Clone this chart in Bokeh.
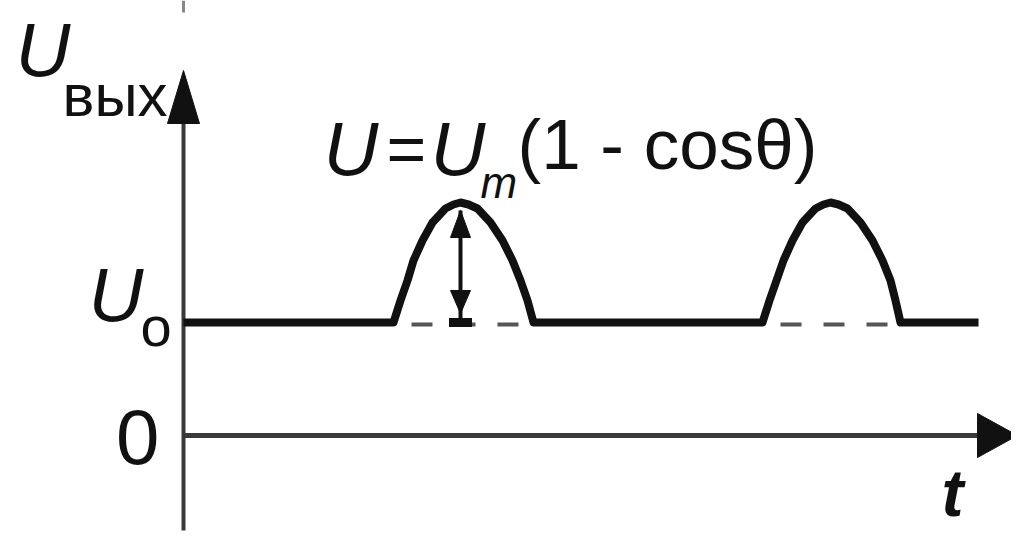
from bokeh.plotting import figure
from bokeh.models import Range1d
from bokeh.embed import file_html
from bokeh.resources import INLINE
from bokeh.core.properties import value

# ---- data (schematic units) ----
t_wave = [0,
          210, 217, 224, 230, 239, 249, 262, 270, 277, 285, 294, 307, 319, 329, 337, 344, 350,
          579, 586, 593, 600, 609, 619, 632, 640, 647, 655, 664, 677, 689, 699, 707, 712, 717,
          795]
u_wave = [113,
          113, 135, 155, 175, 195, 213, 227, 231, 233, 231, 227, 213, 195, 175, 155, 135, 113,
          113, 135, 155, 175, 195, 213, 227, 231, 233, 231, 227, 213, 195, 175, 155, 135, 113,
          113]
pulse_start = [210, 579]
pulse_end = [350, 717]
U0 = 113
peak_t = 277
peak_u = 233
t_axis_end = 834
u_axis_end = 365
u_axis_low = -95

FONT = "Liberation Sans"
AX = "#3a3a3a"
INK = "#111111"

p = figure(width=1011, height=533, output_backend="svg", toolbar_location=None,
           x_range=Range1d(-183, 828), y_range=Range1d(-98, 435),
           x_axis_location=None, y_axis_location=None, min_border=0)
p.grid.visible = False
p.outline_line_color = None
p.background_fill_color = "white"
p.border_fill_color = "white"

# axes
p.segment(x0=[0], y0=[u_axis_low], x1=[0], y1=[u_axis_end - 50], line_color=AX, line_width=4)
p.segment(x0=[0], y0=[u_axis_end + 58], x1=[0], y1=[u_axis_end + 70], line_color="#888888", line_width=3)
p.patch(x=[-16, 0, 16], y=[u_axis_end - 53, u_axis_end, u_axis_end - 53], fill_color=INK, line_color=INK)
p.segment(x0=[0], y0=[0], x1=[t_axis_end - 38], y1=[0], line_color=AX, line_width=5)
p.patch(x=[t_axis_end - 40, t_axis_end, t_axis_end - 40], y=[22, 0, -22], fill_color=INK, line_color=INK)

# dashed baseline under pulses
p.segment(x0=pulse_start, y0=[U0 - 2] * 2, x1=pulse_end, y1=[U0 - 2] * 2,
          line_color="#555555", line_width=4, line_dash="21 22", line_dash_offset=25)

# waveform
p.line(t_wave, u_wave, line_color=INK, line_width=8, line_join="round")

# amplitude double arrow
p.segment(x0=[peak_t], y0=[U0], x1=[peak_t], y1=[peak_u - 8], line_color=INK, line_width=4)
p.patch(x=[peak_t - 10, peak_t, peak_t + 10], y=[peak_u - 35, peak_u - 8, peak_u - 35], fill_color=INK, line_color=INK)
p.patch(x=[peak_t - 10, peak_t, peak_t + 10], y=[U0 + 32, U0 + 9, U0 + 32], fill_color=INK, line_color=INK)
p.rect(x=[peak_t], y=[U0], width=23, height=9, fill_color=INK, line_color=None)

def txt(px, py, s, size, style="normal", align="left"):
    # px, py: left edge and baseline in picture pixels
    shift = 0.37 * size
    p.text(x=[px - 183], y=[435 - (py - shift)], text=[s], text_font=value(FONT),
           text_font_size=f"{size}px", text_font_style=style, text_color=INK,
           text_baseline="alphabetic", text_align=align)

# formula
txt(323, 176, "U", 76, "italic")
txt(386, 174, "=", 68)
txt(430, 176, "U", 76, "italic")
txt(480, 198, "m", 44, "italic")
txt(517, 170, "(1 - cos\u03b8)", 71)

# y label
txt(15, 77, "U", 76, "italic")
txt(62, 117, "вых", 60)

# U0 label
txt(88, 322, "U", 76, "italic")
txt(140, 347, "o", 56)

# zero and t
txt(159, 465, "0", 78, align="right")
txt(941, 517, "t", 66, "bold italic")

open("out.html", "w").write(file_html(p, INLINE))
